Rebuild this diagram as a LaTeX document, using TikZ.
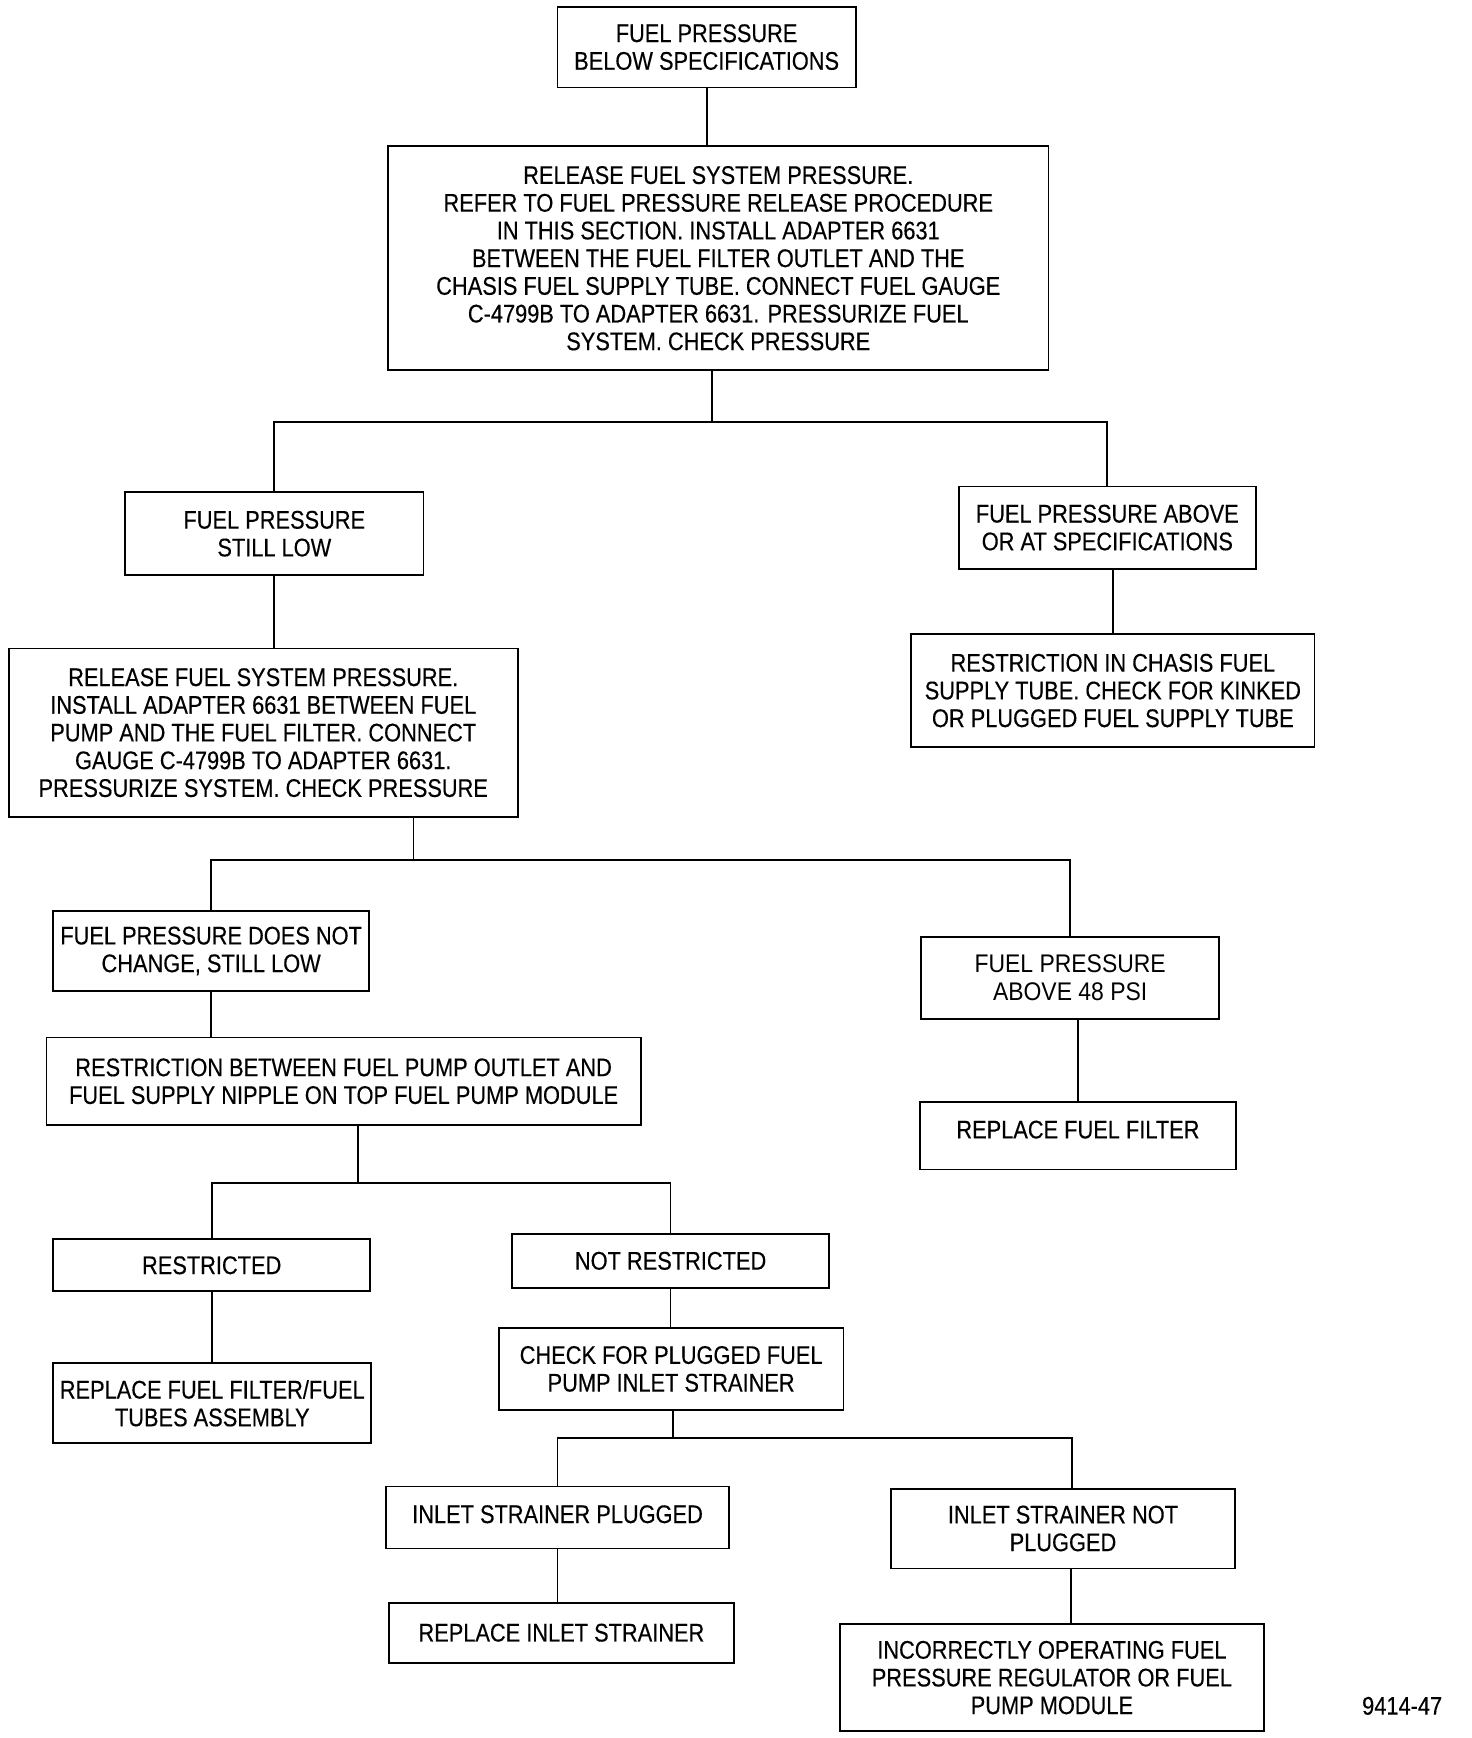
\documentclass[tikz,border=0pt]{standalone}
\usepackage{fontspec}
\setmainfont{Liberation Sans}[FakeStretch=0.855,FakeBold=0.3]
\newfontfamily\widefont{Liberation Sans}[FakeStretch=0.9]
\newcommand{\fsz}{\fontsize{11.5}{12.5}\selectfont}
\begin{document}
\begin{tikzpicture}[x=0.5pt,y=-0.5pt,
  box/.style 2 args={draw, line width=0.8pt, inner sep=0pt, align=center, font=\fsz,
    minimum width={#1*0.5pt}, minimum height={#2*0.5pt}},
  link/.style={line width=0.8pt}]
\useasboundingbox (0,0) rectangle (1328,1568);
\fill[white] (0,0) rectangle (1328,1568);

\node[box={269}{73}] (b1) at (637.5,42.5) {FUEL PRESSURE\\BELOW SPECIFICATIONS};
\node[box={596}{202}] (b2) at (648,233) {RELEASE FUEL SYSTEM PRESSURE.\\REFER TO FUEL PRESSURE RELEASE PROCEDURE\\IN THIS SECTION. INSTALL ADAPTER 6631\\BETWEEN THE FUEL FILTER OUTLET AND THE\\CHASIS FUEL SUPPLY TUBE. CONNECT FUEL GAUGE\\C-4799B TO ADAPTER 6631. PRESSURIZE FUEL\\SYSTEM. CHECK PRESSURE};
\node[box={269}{75}] (b3) at (247.5,481.5) {FUEL PRESSURE\\STILL LOW};
\node[box={459}{152}] (b4) at (237.5,661) {RELEASE FUEL SYSTEM PRESSURE.\\INSTALL ADAPTER 6631 BETWEEN FUEL\\PUMP AND THE FUEL FILTER. CONNECT\\GAUGE C-4799B TO ADAPTER 6631.\\PRESSURIZE SYSTEM. CHECK PRESSURE};
\node[box={268}{74}] (r1) at (999,476) {FUEL PRESSURE ABOVE\\OR AT SPECIFICATIONS};
\node[box={364}{102}] (r2) at (1004,623) {RESTRICTION IN CHASIS FUEL\\SUPPLY TUBE. CHECK FOR KINKED\\OR PLUGGED FUEL SUPPLY TUBE};
\node[box={285}{72}] (b5) at (190.5,858) {FUEL PRESSURE DOES NOT\\CHANGE, STILL LOW};
\node[box={269}{74}, font=\fsz\widefont] (r3) at (965.5,882) {FUEL PRESSURE\\ABOVE 48 PSI};
\node[box={285}{61}] (r4) at (972.5,1024.5) {\raisebox{5.5pt}{REPLACE FUEL FILTER}};
\node[box={536}{79}] (b6) at (310,975.5) {RESTRICTION BETWEEN FUEL PUMP OUTLET AND\\FUEL SUPPLY NIPPLE ON TOP FUEL PUMP MODULE};
\node[box={286}{47}] (b7) at (191,1141.5) {RESTRICTED};
\node[box={287}{72}] (b8) at (191.5,1266) {REPLACE FUEL FILTER/FUEL\\TUBES ASSEMBLY};
\node[box={286}{49}] (b9) at (605,1137.5) {NOT RESTRICTED};
\node[box={311}{74}] (b10) at (605.5,1235) {CHECK FOR PLUGGED FUEL\\PUMP INLET STRAINER};
\node[box={310}{56}] (b11) at (503,1369) {\raisebox{3pt}{INLET STRAINER PLUGGED}};
\node[box={311}{54}] (b12) at (506.5,1473) {REPLACE INLET STRAINER};
\node[box={310}{72}] (b13) at (959,1379) {INLET STRAINER NOT\\PLUGGED};
\node[box={382}{97}] (b14) at (949,1513.5) {INCORRECTLY OPERATING FUEL\\PRESSURE REGULATOR OR FUEL\\PUMP MODULE};
\node[font=\fsz, inner sep=0pt] (fig) at (1265,1539) {9414-47};

% tree 1
\coordinate (j1) at (642,381);
\draw[link] (b1.south) -- (b1.south |- b2.north);
\draw[link] (b2.south -| j1) -- (j1);
\draw[link] (b3.north) |- (j1) -| (r1.north);
\draw[link] (b3.south) -- (b3.south |- b4.north);
\draw[link] (r2.north) -- (r2.north |- r1.south);
% tree 2
\coordinate (j2) at (373,776);
\draw[link] (b4.south -| j2) -- (j2);
\draw[link] (b5.north) |- (j2) -| (r3.north);
\draw[link] (b5.south) -- (b5.south |- b6.north);
\draw[link] (r4.north) -- (r4.north |- r3.south);
% tree 3
\coordinate (j3) at (323,1067);
\draw[link] (b6.south -| j3) -- (j3);
\draw[link] (b7.north) |- (j3) -| (b9.north);
\draw[link] (b7.south) -- (b7.south |- b8.north);
\draw[link] (b9.south) -- (b9.south |- b10.north);
% tree 4
\coordinate (j4) at (607,1297);
\coordinate (k4) at (967,1297);
\coordinate (k5) at (966,1415);
\draw[link] (b10.south -| j4) -- (j4);
\draw[link] (b11.north) |- (j4) -- (k4) -- (k4 |- b13.north);
\draw[link] (b11.south) -- (b11.south |- b12.north);
\draw[link] (k5 |- b13.south) -- (k5 |- b14.north);
\end{tikzpicture}
\end{document}
